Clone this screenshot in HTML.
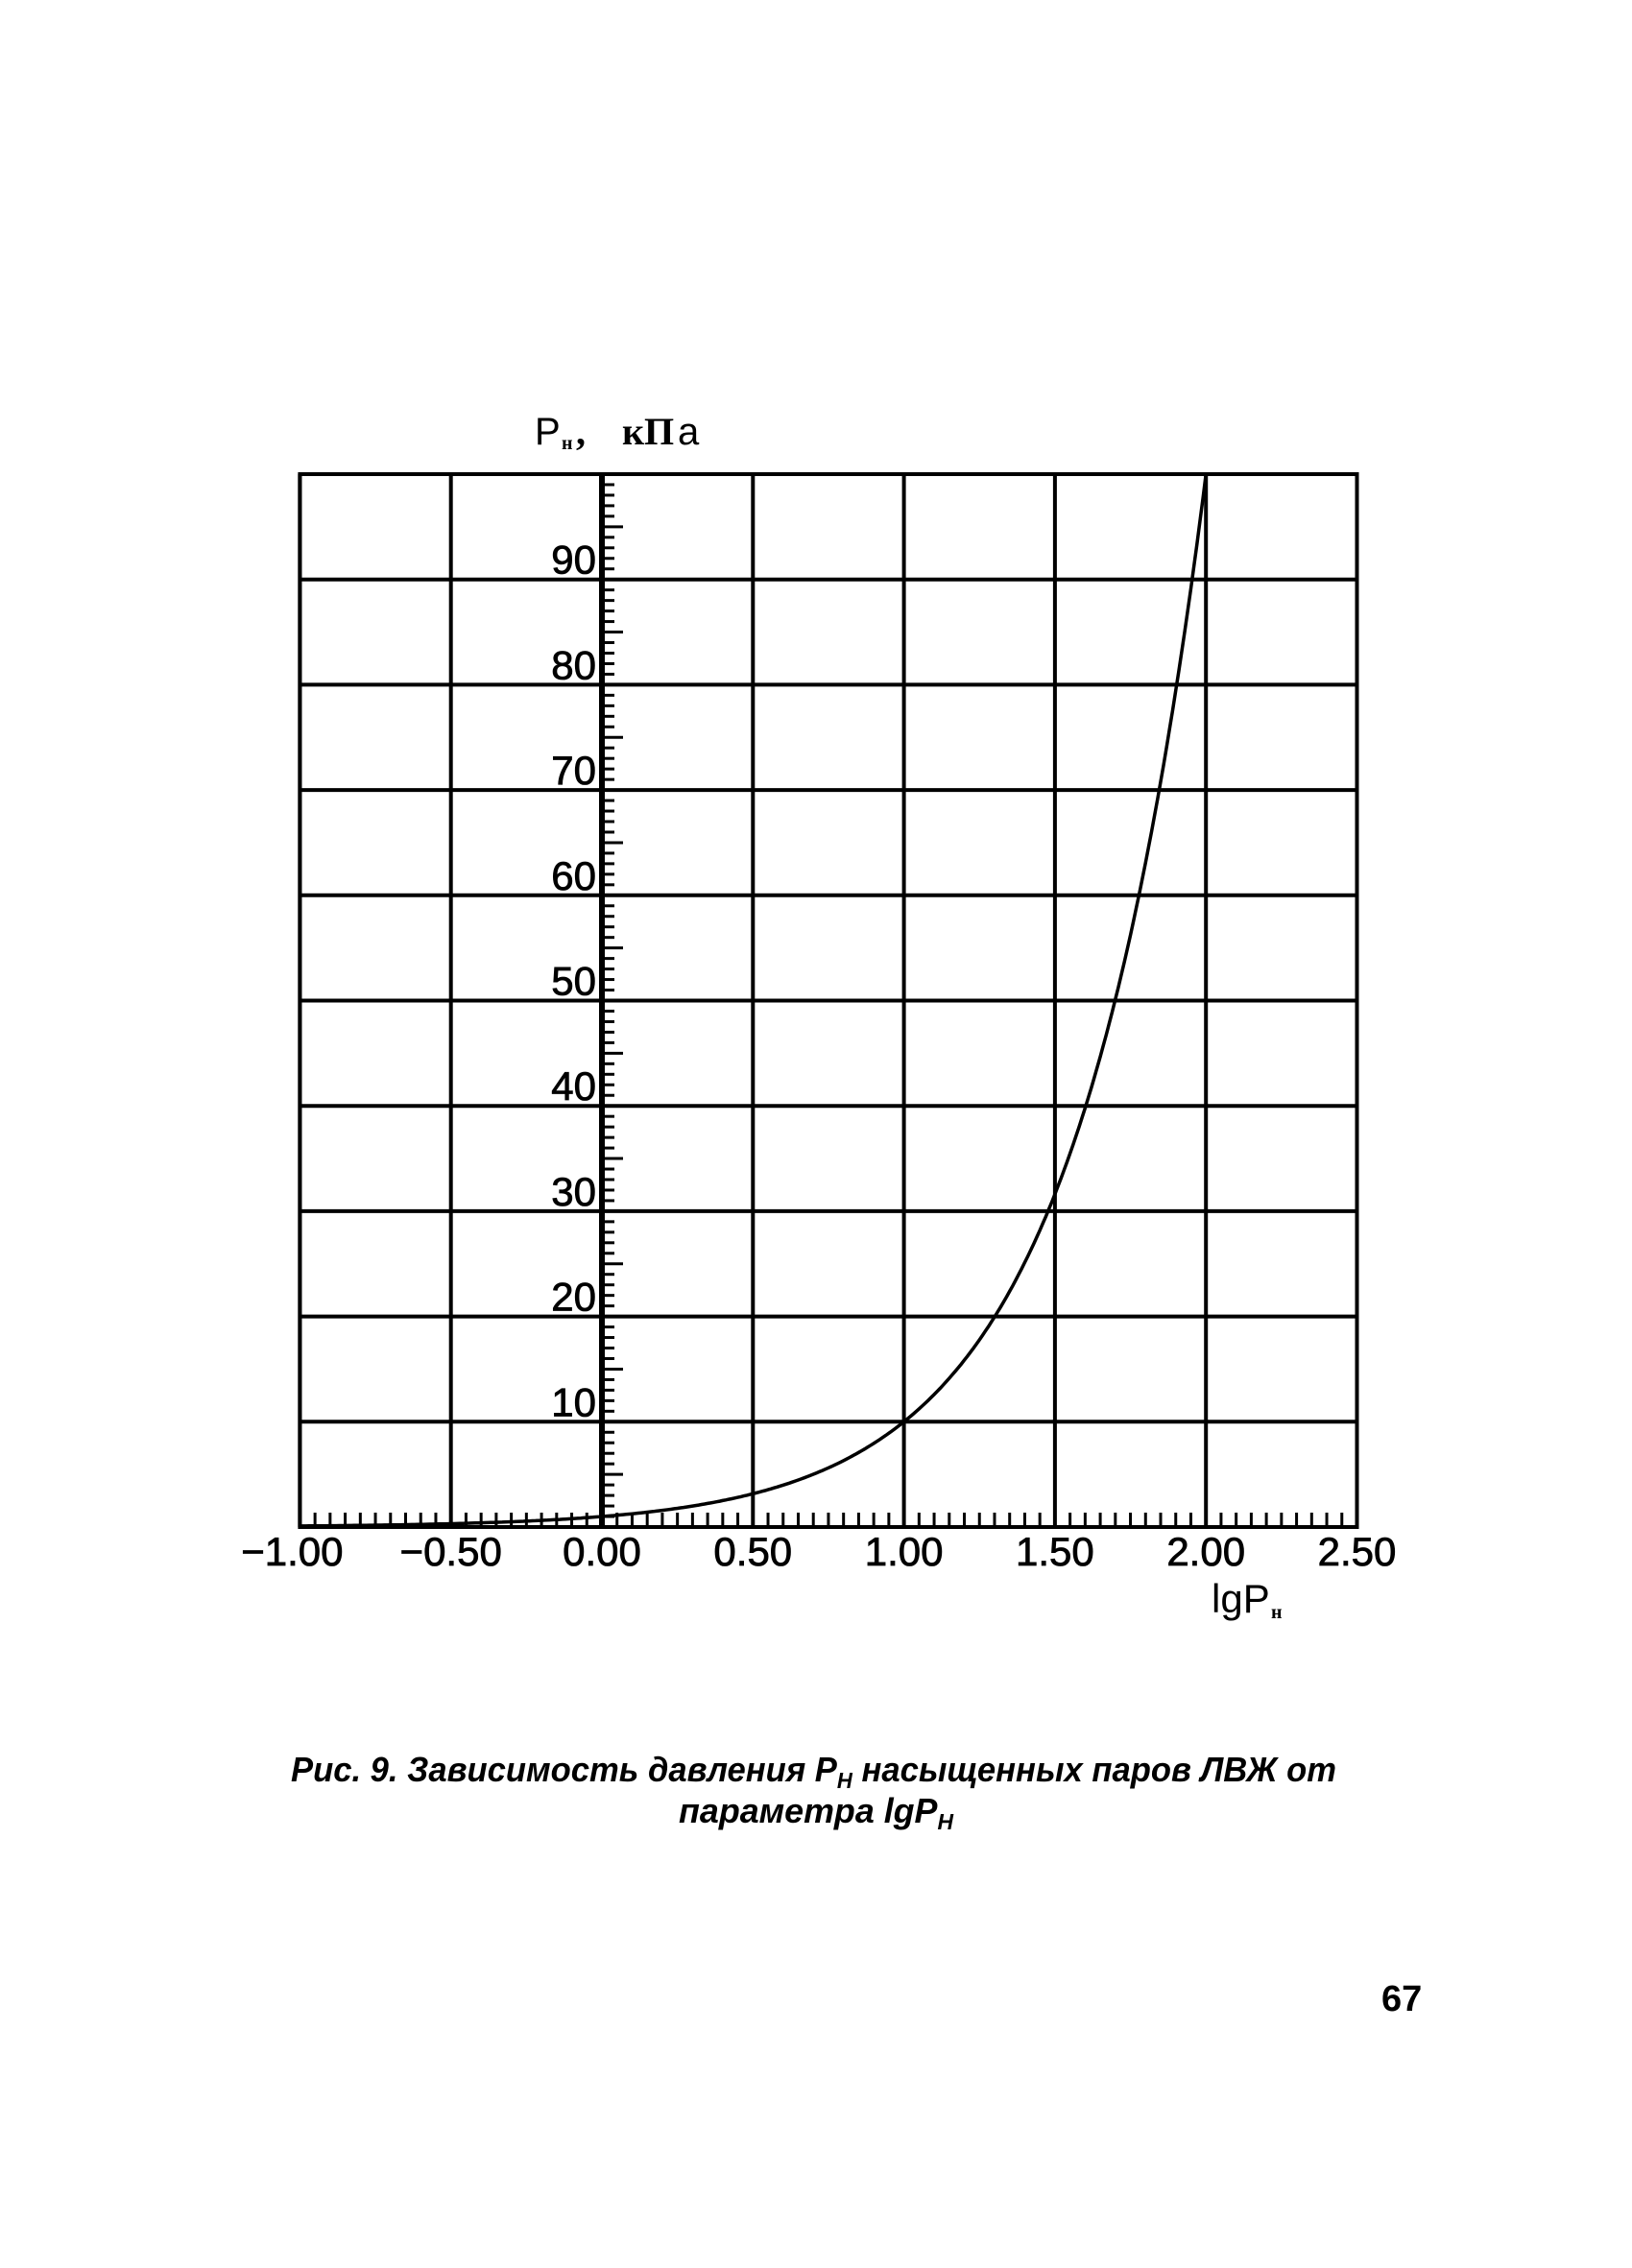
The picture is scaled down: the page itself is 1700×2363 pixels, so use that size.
<!DOCTYPE html>
<html><head><meta charset="utf-8"><style>
html,body{margin:0;padding:0;background:#fff;}
body{width:1700px;height:2363px;position:relative;overflow:hidden;}
svg{position:absolute;left:0;top:0;}
</style></head><body>
<svg id="s" width="1700" height="2363" viewBox="0 0 1700 2363" xmlns="http://www.w3.org/2000/svg">
<g id="grid" stroke="#000" stroke-width="4" fill="none"></g>
<g id="ticks" stroke="#000" stroke-width="3"></g>
<path id="curve" fill="none" stroke="#000" stroke-width="3.5"/>
<g font-family="Liberation Sans, DejaVu Sans, sans-serif" font-size="42" fill="#000" id="lbl" stroke="#000" stroke-width="0.8"></g>
<text x="557" y="463" font-family="Liberation Sans, sans-serif" font-size="40">P</text>
<text x="585" y="468" font-family="Liberation Serif, serif" font-size="20" font-weight="bold">н</text>
<text x="600" y="463" font-family="Liberation Serif, serif" font-size="40" font-weight="bold">,</text>
<text x="648" y="463" font-family="Liberation Serif, serif" font-size="40" font-weight="bold">кП</text>
<text x="706" y="463" font-family="Liberation Sans, sans-serif" font-size="40">а</text>
<text x="1262" y="1680" font-family="Liberation Sans, sans-serif" font-size="42">lgP</text>
<text x="1324" y="1686" font-family="Liberation Serif, serif" font-size="20" font-weight="bold">н</text>
<text x="303" y="1856" textLength="1089" lengthAdjust="spacingAndGlyphs" font-family="Liberation Sans, sans-serif" font-size="36" font-style="italic" font-weight="bold">Рис. 9. Зависимость давления P<tspan font-size="23" dy="7">H</tspan><tspan dy="-7"> насыщенных паров ЛВЖ от</tspan></text>
<text x="707" y="1899" textLength="286" lengthAdjust="spacingAndGlyphs" font-family="Liberation Sans, sans-serif" font-size="36" font-style="italic" font-weight="bold">параметра lgP<tspan font-size="23" dy="7">H</tspan></text>
<text x="1439" y="2095" font-family="Liberation Sans, sans-serif" font-size="38" font-weight="bold">67</text>
</svg>
<script>
var NS="http://www.w3.org/2000/svg";
function X(x){return 627+x*314.6;}
function Y(p){return 1591-p*10.97;}
function el(t,a,p){var e=document.createElementNS(NS,t);for(var k in a)e.setAttribute(k,a[k]);p.appendChild(e);return e;}
var g=document.getElementById('grid'),tk=document.getElementById('ticks'),lb=document.getElementById('lbl');
el('rect',{x:X(-1),y:Y(100),width:X(2.5)-X(-1),height:Y(0)-Y(100)},g);
for(var i=0;i<=7;i++){var x=X(-1+i*0.5);el('line',{x1:x,y1:Y(100),x2:x,y2:Y(0)},g);}
for(var p=10;p<100;p+=10){el('line',{x1:X(-1),y1:Y(p),x2:X(2.5),y2:Y(p)},g);}
el('line',{x1:X(0),y1:Y(100),x2:X(0),y2:Y(0),'stroke-width':6},g);
for(var p=1;p<100;p++){var L=(p%5==0)?22:13;el('line',{x1:X(0),y1:Y(p),x2:X(0)+L,y2:Y(p)},tk);}
for(var i=1;i<70;i++){var x=X(-1+i*0.05);var L=15;el('line',{x1:x,y1:Y(0),x2:x,y2:Y(0)-L},tk);}
for(var p=10;p<=90;p+=10){var t=el('text',{x:X(0)-6,y:Y(p)-6,'text-anchor':'end'},lb);t.textContent=p;}
var xl=["\u22121.00","\u22120.50","0.00","0.50","1.00","1.50","2.00","2.50"];
for(var i=0;i<8;i++){var t=el('text',{x:X(-1+i*0.5)+ (i==0?-8:0),y:1631,'text-anchor':'middle'},lb);t.textContent=xl[i];}
var d="";for(var x=-1;x<=2.0001;x+=0.01){d+=(d?"L":"M")+X(x).toFixed(1)+","+Y(Math.pow(10,x)).toFixed(1);}
document.getElementById('curve').setAttribute('d',d);
</script>
</body></html>
